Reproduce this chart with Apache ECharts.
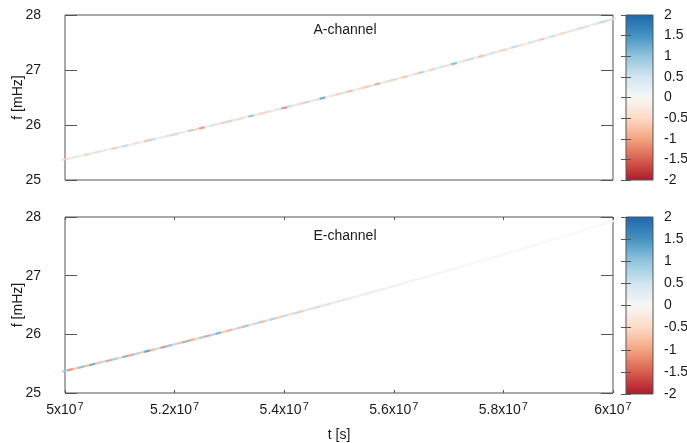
<!DOCTYPE html>
<html>
<head>
<meta charset="utf-8">
<script src="https://cdn.jsdelivr.net/npm/echarts@6/dist/echarts.min.js"></script>
<style>html,body{margin:0;padding:0;background:#fff}#c{width:687px;height:443px}</style>
</head>
<body>
<div id="c"></div>
<script>
// time in units of 1e7 s
const t_1e7 = [5.00,5.01,5.02,5.03,5.04,5.05,5.06,5.07,5.08,5.09,
5.10,5.11,5.12,5.13,5.14,5.15,5.16,5.17,5.18,5.19,
5.20,5.21,5.22,5.23,5.24,5.25,5.26,5.27,5.28,5.29,
5.30,5.31,5.32,5.33,5.34,5.35,5.36,5.37,5.38,5.39,
5.40,5.41,5.42,5.43,5.44,5.45,5.46,5.47,5.48,5.49,
5.50,5.51,5.52,5.53,5.54,5.55,5.56,5.57,5.58,5.59,
5.60,5.61,5.62,5.63,5.64,5.65,5.66,5.67,5.68,5.69,
5.70,5.71,5.72,5.73,5.74,5.75,5.76,5.77,5.78,5.79,
5.80,5.81,5.82,5.83,5.84,5.85,5.86,5.87,5.88,5.89,
5.90,5.91,5.92,5.93,5.94,5.95,5.96,5.97,5.98,5.99,6.00];
// frequency track [mHz]
const f_mHz = [25.376,25.398,25.420,25.442,25.465,25.487,25.509,25.532,25.554,25.577,
25.600,25.622,25.645,25.668,25.691,25.714,25.737,25.760,25.783,25.807,
25.830,25.854,25.877,25.901,25.924,25.948,25.972,25.996,26.020,26.044,
26.068,26.092,26.116,26.141,26.165,26.189,26.214,26.238,26.263,26.288,
26.313,26.338,26.362,26.387,26.413,26.438,26.463,26.488,26.514,26.539,
26.565,26.590,26.616,26.641,26.667,26.693,26.719,26.745,26.771,26.797,
26.823,26.850,26.876,26.903,26.929,26.956,26.982,27.009,27.036,27.063,
27.089,27.116,27.144,27.171,27.198,27.225,27.252,27.280,27.307,27.335,
27.363,27.390,27.418,27.446,27.474,27.502,27.530,27.558,27.586,27.614,
27.643,27.671,27.700,27.728,27.757,27.785,27.814,27.843,27.872,27.901,27.930];
// A-channel colour values
const valA = [-0.6,-0.4,0.5,-0.3,-0.7,0.4,0.6,-0.5,0.3,-0.8,
0.5,0.7,-0.4,-0.6,0.4,-0.9,0.8,0.3,-0.5,0.6,
-0.7,0.5,-0.4,0.9,-0.6,-1.2,0.4,0.6,-0.5,0.7,
-0.8,0.5,-0.6,0.4,1.1,-0.5,-0.7,0.6,-0.4,0.5,
-1.3,0.7,0.4,-0.6,0.8,-0.5,0.6,1.4,-0.4,0.5,
-0.7,0.6,-0.9,0.4,-0.6,-0.8,0.5,-1.1,0.4,-0.6,
0.7,-0.5,-0.8,0.3,-0.6,0.9,-0.4,-0.7,0.5,0.6,
-0.5,1.2,0.4,-0.6,0.7,-0.4,-0.9,0.5,0.6,-0.5,
-0.7,0.4,0.8,-0.6,-0.4,0.6,0.5,-0.8,0.4,0.7,
-0.5,-0.6,0.5,0.4,-0.7,0.6,-0.4,0.5,0.8,0.6,0.5];
// E-channel colour values
const valE = [0.9,-1.3,-0.8,1.2,-1.0,1.4,-0.9,0.8,-1.2,1.0,
-0.7,1.3,-1.1,0.9,-0.8,1.5,-1.0,0.7,-1.3,1.1,
0.8,-0.9,1.2,-1.1,-0.7,1.0,-1.2,0.9,1.3,-0.8,
-1.0,0.7,-0.9,1.1,-0.6,0.8,-1.0,0.6,0.9,-0.7,
0.8,-0.6,0.7,-0.8,0.5,-0.6,0.7,-0.5,0.6,-0.4,
0.5,-0.5,0.4,-0.4,0.3,-0.4,0.3,-0.3,0.3,-0.2,
0.25,-0.2,0.2,-0.2,0.15,-0.15,0.15,-0.12,0.1,-0.1,
0.1,-0.08,0.08,-0.08,0.06,-0.06,0.06,-0.05,0.05,-0.04,
0.04,-0.04,0.03,-0.03,0.03,-0.03,0.02,-0.02,0.02,-0.02,
0.02,-0.02,0.01,-0.01,0.01,-0.01,0.01,-0.01,0.01,-0.01,0.0];
const panelTitles = ['A-channel', 'E-channel'];
const colorRange = [-2, 2];
const paletteRdBu = ['#b2182b','#d6604d','#f4a582','#fddbc7','#f7f7f7','#d1e5f0','#92c5de','#4393c3','#2166ac'];

const FONT = 'Liberation Sans, Arial, sans-serif';
const TXT = '#1a1a1a';
const LINE = '#555555';
const mk = vals => t_1e7.map((t, i) => [t * 1e7, f_mHz[i], vals[i]]);

const chart = echarts.init(document.getElementById('c'), null, {renderer: 'canvas'});

const baseText = {fontFamily: FONT, fontSize: 14, color: TXT};

function xMain(gi, showLabels) {
  return [{
    gridIndex: gi, type: 'value', min: 5e7, max: 6e7, interval: 2e6, position: 'bottom',
    axisLine: {show: false},
    axisTick: {show: showLabels, inside: true, length: 3, lineStyle: {color: LINE}},
    splitLine: {show: false},
    axisLabel: showLabels ? {
      show: true, margin: 8, hideOverlap: false,
      formatter: v => '{a|' + (+(v / 1e7).toFixed(1)) + 'x10}{s|7}',
      rich: {a: {fontFamily: FONT, fontSize: 14, color: TXT}, s: {fontFamily: FONT, fontSize: 11, color: TXT, padding: [0, 0, 7, 1]}}
    } : {show: false},
    name: showLabels ? 't [s]' : '', nameLocation: 'middle', nameGap: 35, nameMoveOverlap: false,
    nameTextStyle: baseText
  }, {
    gridIndex: gi, type: 'value', min: 5e7, max: 6e7, interval: 2e6, position: 'top',
    axisLine: {show: false},
    axisTick: {show: showLabels, inside: true, length: 3, lineStyle: {color: LINE}},
    splitLine: {show: false}, axisLabel: {show: false}
  }];
}
function yMain(gi) {
  return [{
    gridIndex: gi, type: 'value', min: 25, max: 28, interval: 1, position: 'left',
    axisLine: {show: false},
    axisTick: {show: true, inside: true, length: 12, lineStyle: {color: LINE}},
    splitLine: {show: false},
    axisLabel: {margin: 24, fontFamily: FONT, fontSize: 14, color: TXT},
    name: 'f [mHz]', nameLocation: 'middle', nameGap: 40, nameMoveOverlap: false, nameTextStyle: baseText
  }, {
    gridIndex: gi, type: 'value', min: 25, max: 28, interval: 1, position: 'right',
    axisLine: {show: false},
    axisTick: {show: true, inside: true, length: 12, lineStyle: {color: LINE}},
    splitLine: {show: false}, axisLabel: {show: false}
  }];
}
function xBar(gi) {
  return [{gridIndex: gi, type: 'value', min: 0, max: 1, show: false}];
}
function yBar(gi) {
  return [{
    gridIndex: gi, type: 'value', min: colorRange[0], max: colorRange[1], interval: 0.5, position: 'right', z: 10,
    axisLine: {show: false},
    axisTick: {show: true, inside: true, length: 5, lineStyle: {color: LINE}},
    splitLine: {show: false},
    axisLabel: {margin: 11, fontFamily: FONT, fontSize: 14, color: TXT, formatter: v => String(v)}
  }, {
    gridIndex: gi, type: 'value', min: colorRange[0], max: colorRange[1], interval: 0.5, position: 'left', z: 10,
    axisLine: {show: false},
    axisTick: {show: true, inside: true, length: 5, lineStyle: {color: LINE}},
    splitLine: {show: false}, axisLabel: {show: false}
  }];
}

const gridBox = {show: true, borderColor: LINE, borderWidth: 1, backgroundColor: 'transparent', containLabel: false, outerBoundsMode: 'none'};

const gradStops = paletteRdBu.slice().reverse().map((c, i, a) => ({offset: i / (a.length - 1), color: c}));
function colorbarItem(params, api) {
  const pTop = api.coord([0, api.value(1)]);
  const pBot = api.coord([1, api.value(0)]);
  return {
    type: 'rect',
    shape: {x: pTop[0], y: pTop[1], width: pBot[0] - pTop[0], height: pBot[1] - pTop[1]},
    style: {fill: new echarts.graphic.LinearGradient(0, 0, 0, 1, gradStops)}
  };
}

const option = {
  animation: false,
  backgroundColor: '#fff',
  title: [
    {text: panelTitles[0], left: 345, top: 23, textAlign: 'center', padding: 0, textStyle: {fontFamily: FONT, fontSize: 14, fontWeight: 'normal', color: TXT}},
    {text: panelTitles[1], left: 345, top: 229, textAlign: 'center', padding: 0, textStyle: {fontFamily: FONT, fontSize: 14, fontWeight: 'normal', color: TXT}}
  ],
  grid: [
    Object.assign({left: 65, top: 15, width: 548, height: 165}, gridBox),
    Object.assign({left: 65, top: 217, width: 548, height: 176}, gridBox),
    Object.assign({left: 626, top: 15, width: 27, height: 165, z: 10}, gridBox),
    Object.assign({left: 626, top: 217, width: 27, height: 177, z: 10}, gridBox)
  ],
  xAxis: [].concat(xMain(0, false), xMain(1, true), xBar(2), xBar(3)),
  yAxis: [].concat(yMain(0), yMain(1), yBar(2), yBar(3)),
  visualMap: [
    {type: 'continuous', show: false, min: colorRange[0], max: colorRange[1], dimension: 2, seriesIndex: 0, inRange: {color: paletteRdBu}},
    {type: 'continuous', show: false, min: colorRange[0], max: colorRange[1], dimension: 2, seriesIndex: 1, inRange: {color: paletteRdBu}}
  ],
  series: [
    {type: 'scatter', xAxisIndex: 0, yAxisIndex: 0, data: mk(valA), symbol: 'rect', symbolSize: [6, 2.2], symbolRotate: 14, silent: true},
    {type: 'scatter', xAxisIndex: 2, yAxisIndex: 2, data: mk(valE), symbol: 'rect', symbolSize: [6, 2.2], symbolRotate: 15, silent: true},
    {type: 'custom', xAxisIndex: 4, yAxisIndex: 4, data: [colorRange], renderItem: colorbarItem, silent: true},
    {type: 'custom', xAxisIndex: 5, yAxisIndex: 6, data: [colorRange], renderItem: colorbarItem, silent: true}
  ]
};
chart.setOption(option);
</script>
</body>
</html>
